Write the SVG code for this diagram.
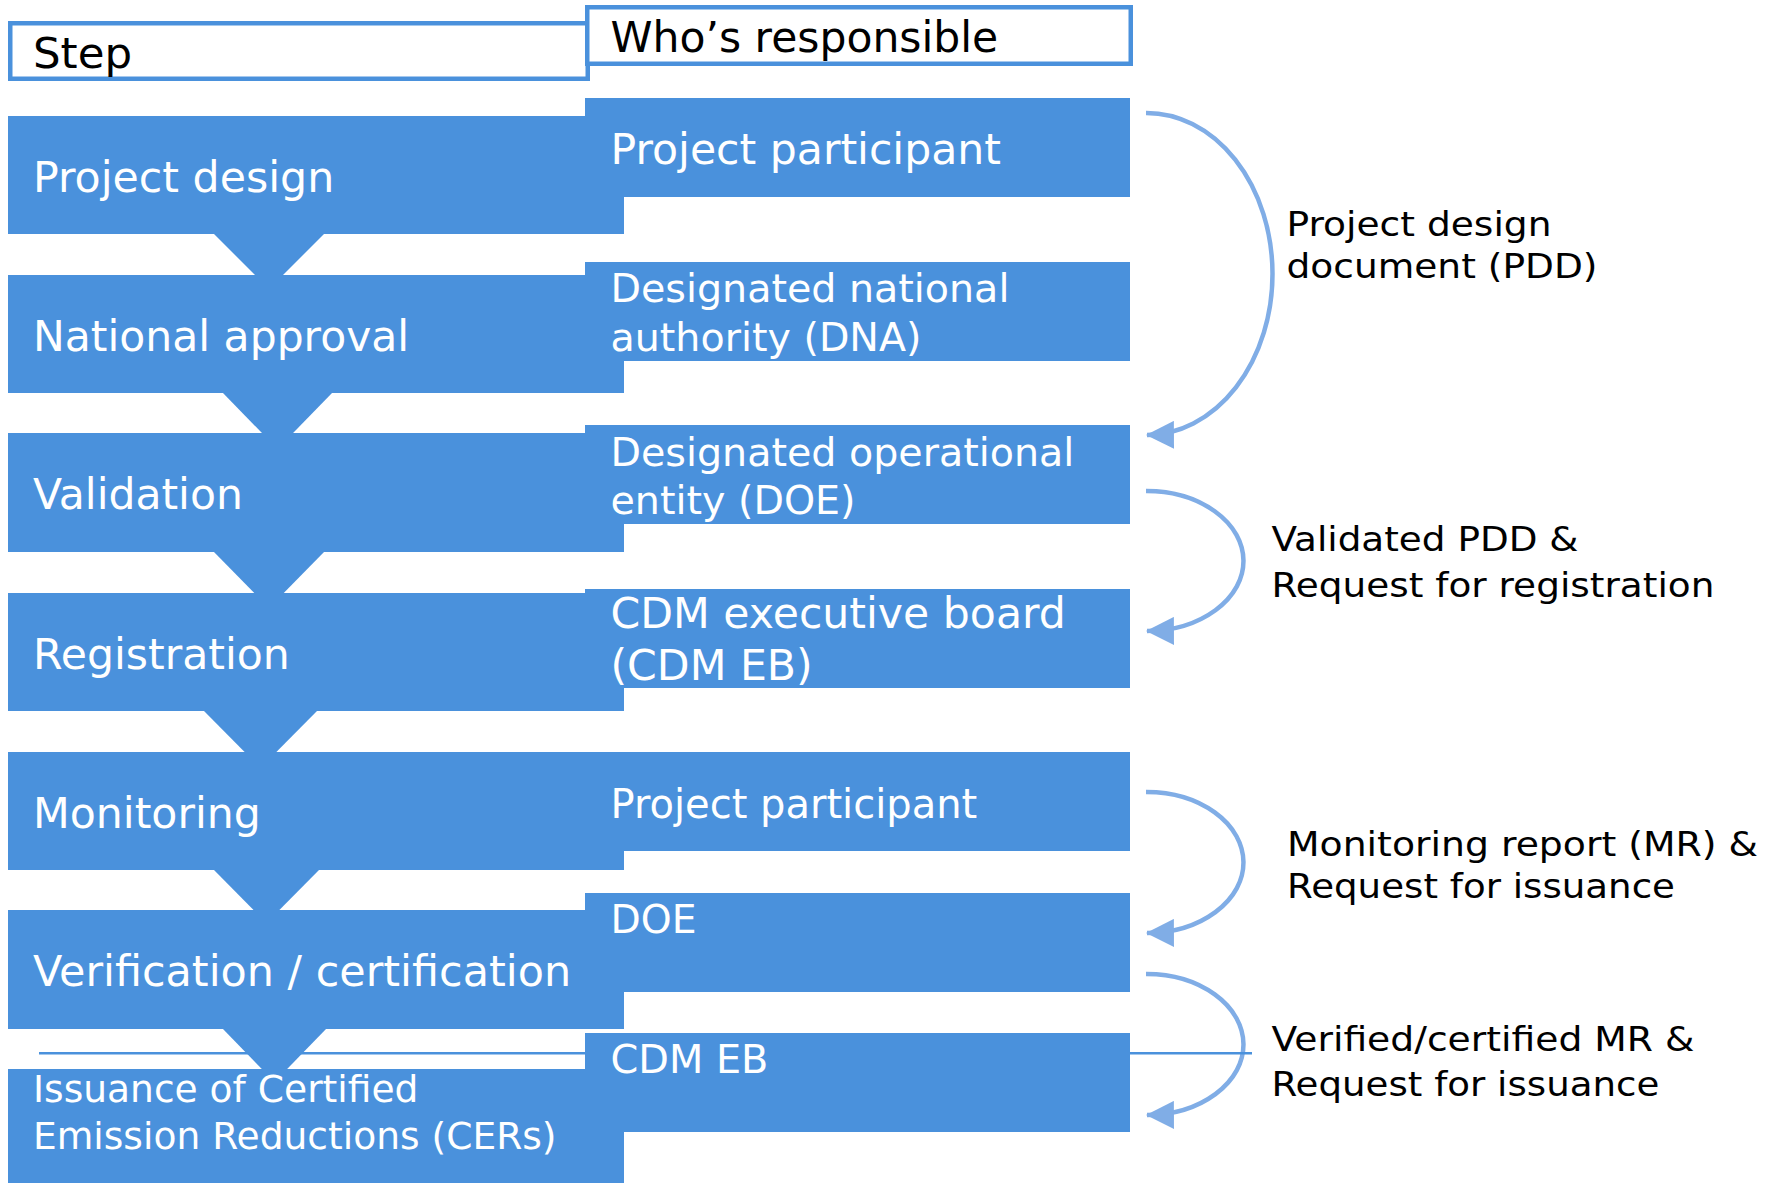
<svg xmlns="http://www.w3.org/2000/svg" width="1776" height="1183" viewBox="0 0 1776 1183">
<style>
.blk{fill:#4a91dc}
.hdr{fill:#fff;stroke:#4a91dc;stroke-width:4.5}
.wt{fill:#fff;font-family:"DejaVu Sans",Verdana,sans-serif}
.ht{fill:#000;font-family:"DejaVu Sans",Verdana,sans-serif}
.bt{fill:#000;font-family:"DejaVu Sans",Verdana,sans-serif;font-size:33.5px}
.arc{fill:none;stroke:#80ade6;stroke-width:4.5}
.rule{stroke:#4a91dc;stroke-width:2.5}
</style>
<defs>
<marker id="ah" markerUnits="userSpaceOnUse" markerWidth="28" markerHeight="28" viewBox="0 0 26 26" refX="25" refY="13" orient="auto">
<path d="M0,0 L26,13 L0,26 Z" fill="#80ade6"/>
</marker>
</defs>
<rect width="1776" height="1183" fill="#fff"/>

<g id="connectors">
<path class="arc" d="M1146,113 A126,161 0 0 1 1147,435" marker-end="url(#ah)"/>
<path class="arc" d="M1146,491 A97,70 0 0 1 1147,631" marker-end="url(#ah)"/>
<path class="arc" d="M1146,792 A97,70.5 0 0 1 1147,933" marker-end="url(#ah)"/>
<path class="arc" d="M1146,974 A97,70.5 0 0 1 1147,1115" marker-end="url(#ah)"/>
<line class="rule" x1="39" y1="1053.3" x2="1252" y2="1053.3"/>
</g>

<g id="header-step">
<rect class="hdr" x="10.25" y="23.25" width="577.5" height="55.5"/>
<text class="ht" x="33" y="68" font-size="43.5">Step</text>
</g>
<g id="header-who">
<rect class="hdr" x="587.25" y="7.25" width="543.5" height="56.5"/>
<text class="ht" x="610.5" y="51.7" font-size="42.5">Who’s responsible</text>
</g>

<g id="step-project-design">
<rect class="blk" x="8" y="116" width="616" height="118"/>
<rect class="blk" x="585" y="98" width="545" height="99"/>
<polygon class="blk" points="213,233 325,233 269,289"/>
<text class="wt" x="33" y="192" font-size="42.7">Project design</text>
<text class="wt" x="610.5" y="164" font-size="42.6">Project participant</text>
</g>

<g id="step-national-approval">
<rect class="blk" x="8" y="275" width="616" height="118"/>
<rect class="blk" x="585" y="262" width="545" height="99"/>
<polygon class="blk" points="222,392 333,392 277.5,449"/>
<text class="wt" x="33" y="350.7" font-size="42.5">National approval</text>
<text class="wt" x="610.5" y="302.3" font-size="39.6">Designated national</text>
<text class="wt" x="610.5" y="350.7" font-size="39.6">authority (DNA)</text>
</g>

<g id="step-validation">
<rect class="blk" x="8" y="433" width="616" height="119"/>
<rect class="blk" x="585" y="425" width="545" height="99"/>
<polygon class="blk" points="213,551 325,551 269,608"/>
<text class="wt" x="33" y="509" font-size="42.5">Validation</text>
<text class="wt" x="610.5" y="466" font-size="39.6">Designated operational</text>
<text class="wt" x="610.5" y="514.3" font-size="39.6">entity (DOE)</text>
</g>

<g id="step-registration">
<rect class="blk" x="8" y="593" width="616" height="118"/>
<rect class="blk" x="585" y="589" width="545" height="99"/>
<polygon class="blk" points="203,710 318,710 260.5,768"/>
<text class="wt" x="33" y="669" font-size="42.6">Registration</text>
<text class="wt" x="610.5" y="628.3" font-size="42.6">CDM executive board</text>
<text class="wt" x="610.5" y="680" font-size="42.6">(CDM EB)</text>
</g>

<g id="step-monitoring">
<rect class="blk" x="8" y="752" width="616" height="118"/>
<rect class="blk" x="585" y="752" width="545" height="99"/>
<polygon class="blk" points="213,869 320,869 266.5,923"/>
<text class="wt" x="33" y="827.7" font-size="42.6">Monitoring</text>
<text class="wt" x="610.5" y="818.3" font-size="40">Project participant</text>
</g>

<g id="step-verification">
<rect class="blk" x="8" y="910" width="616" height="119"/>
<rect class="blk" x="585" y="893" width="545" height="99"/>
<polygon class="blk" points="222,1028 327,1028 274.5,1082"/>
<text class="wt" x="33" y="985.7" font-size="42.9">Verification / certification</text>
<text class="wt" x="610.5" y="933.3" font-size="39.3">DOE</text>
</g>

<g id="step-issuance">
<rect class="blk" x="8" y="1069" width="616" height="118"/>
<rect class="blk" x="585" y="1033" width="545" height="99"/>
<text class="wt" x="33" y="1101.7" font-size="37.6">Issuance of Certified</text>
<text class="wt" x="33" y="1149.3" font-size="37.6">Emission Reductions (CERs)</text>
<text class="wt" x="610.5" y="1073.3" font-size="39.8">CDM EB</text>
</g>

<g id="label-pdd">
<text class="bt" x="1286.5" y="235.7" textLength="265" lengthAdjust="spacingAndGlyphs">Project design</text>
<text class="bt" x="1286.5" y="277.5" textLength="311" lengthAdjust="spacingAndGlyphs">document (PDD)</text>
</g>
<g id="label-validated">
<text class="bt" x="1271.4" y="551.4" textLength="307" lengthAdjust="spacingAndGlyphs">Validated PDD &amp;</text>
<text class="bt" x="1271.4" y="597" textLength="443" lengthAdjust="spacingAndGlyphs">Request for registration</text>
</g>
<g id="label-monitoring">
<text class="bt" x="1287" y="856" textLength="471" lengthAdjust="spacingAndGlyphs">Monitoring report (MR) &amp;</text>
<text class="bt" x="1287" y="898.3" textLength="388" lengthAdjust="spacingAndGlyphs">Request for issuance</text>
</g>
<g id="label-verified">
<text class="bt" x="1271.4" y="1051" textLength="423" lengthAdjust="spacingAndGlyphs">Verified/certified MR &amp;</text>
<text class="bt" x="1271.4" y="1096" textLength="388" lengthAdjust="spacingAndGlyphs">Request for issuance</text>
</g>
</svg>
